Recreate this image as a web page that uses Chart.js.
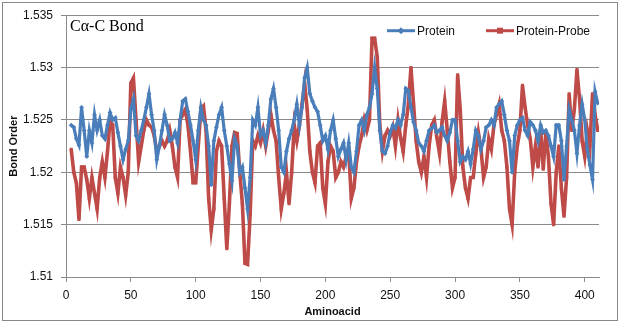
<!DOCTYPE html>
<html>
<head>
<meta charset="utf-8">
<script src="https://cdn.jsdelivr.net/npm/chart.js@4.4.1/dist/chart.umd.min.js"></script>
<style>
  body { margin: 0; background: #fff; }
  #wrap { width: 621px; height: 324px; }
</style>
</head>
<body>
<div id="wrap"><canvas id="bondChart" width="621" height="324"></canvas></div>
<script>
// Aminoacid index (every second residue, 4..410)
const aminoacid = Array.from({ length: 204 }, (_, i) => 4 + 2 * i);

// Bond order, Protein alone
const protein = [
    1.5245,1.5243,1.5232,1.5226,1.5262,1.5240,1.5215,1.5240,1.5228,1.5255,
    1.5240,1.5250,1.5235,1.5232,1.5245,1.5257,1.5250,1.5252,1.5238,1.5225,
    1.5212,1.5222,1.5230,1.5260,1.5270,1.5235,1.5230,1.5240,1.5250,1.5262,
    1.5275,1.5255,1.5240,1.5212,1.5225,1.5240,1.5255,1.5245,1.5230,1.5232,
    1.5238,1.5228,1.5250,1.5268,1.5270,1.5258,1.5245,1.5230,1.5212,1.5240,
    1.5262,1.5250,1.5245,1.5225,1.5188,1.5230,1.5243,1.5255,1.5262,1.5240,
    1.5225,1.5208,1.5192,1.5232,1.5225,1.5200,1.5205,1.5185,1.5165,1.5195,
    1.5250,1.5245,1.5262,1.5235,1.5240,1.5228,1.5245,1.5270,1.5280,1.5262,
    1.5240,1.5205,1.5200,1.5220,1.5232,1.5240,1.5250,1.5265,1.5245,1.5262,
    1.5290,1.5300,1.5275,1.5268,1.5262,1.5258,1.5245,1.5230,1.5235,1.5222,
    1.5240,1.5250,1.5232,1.5215,1.5222,1.5228,1.5212,1.5228,1.5205,1.5200,
    1.5220,1.5245,1.5250,1.5240,1.5255,1.5262,1.5275,1.5300,1.5280,1.5240,
    1.5220,1.5218,1.5225,1.5238,1.5245,1.5242,1.5250,1.5245,1.5255,1.5280,
    1.5278,1.5262,1.5248,1.5240,1.5228,1.5225,1.5220,1.5230,1.5240,1.5242,
    1.5245,1.5238,1.5240,1.5243,1.5235,1.5230,1.5238,1.5250,1.5250,1.5230,
    1.5210,1.5215,1.5212,1.5220,1.5208,1.5222,1.5240,1.5235,1.5222,1.5230,
    1.5243,1.5245,1.5250,1.5245,1.5262,1.5265,1.5268,1.5255,1.5240,1.5230,
    1.5200,1.5235,1.5245,1.5250,1.5252,1.5240,1.5235,1.5248,1.5245,1.5240,
    1.5230,1.5245,1.5238,1.5240,1.5235,1.5225,1.5215,1.5245,1.5245,1.5230,
    1.5193,1.5225,1.5260,1.5250,1.5240,1.5218,1.5245,1.5265,1.5250,1.5222,
    1.5207,1.5193,1.5277,1.5266
];

// Bond order, Protein with probe
const proteinProbe = [
    1.5222,1.5200,1.5190,1.5155,1.5205,1.5205,1.5193,1.5175,1.5195,1.5180,
    1.5165,1.5195,1.5210,1.5195,1.5220,1.5250,1.5245,1.5195,1.5180,1.5205,
    1.5195,1.5178,1.5200,1.5285,1.5290,1.5250,1.5210,1.5225,1.5240,1.5250,
    1.5245,1.5243,1.5235,1.5220,1.5225,1.5230,1.5225,1.5230,1.5240,1.5225,
    1.5205,1.5195,1.5250,1.5255,1.5260,1.5245,1.5220,1.5190,1.5190,1.5225,
    1.5260,1.5263,1.5240,1.5175,1.5145,1.5165,1.5220,1.5230,1.5225,1.5175,
    1.5127,1.5170,1.5225,1.5238,1.5237,1.5200,1.5170,1.5113,1.5112,1.5160,
    1.5230,1.5225,1.5235,1.5228,1.5240,1.5225,1.5240,1.5255,1.5240,1.5230,
    1.5195,1.5165,1.5180,1.5200,1.5170,1.5200,1.5245,1.5230,1.5245,1.5265,
    1.5285,1.5260,1.5220,1.5200,1.5190,1.5225,1.5228,1.5185,1.5170,1.5210,
    1.5225,1.5220,1.5195,1.5200,1.5210,1.5205,1.5215,1.5220,1.5175,1.5185,
    1.5210,1.5225,1.5235,1.5250,1.5240,1.5250,1.5328,1.5328,1.5310,1.5245,
    1.5220,1.5235,1.5240,1.5235,1.5243,1.5225,1.5250,1.5233,1.5220,1.5245,
    1.5265,1.5300,1.5265,1.5230,1.5210,1.5200,1.5215,1.5195,1.5225,1.5245,
    1.5250,1.5233,1.5218,1.5248,1.5268,1.5240,1.5210,1.5185,1.5195,1.5293,
    1.5260,1.5205,1.5185,1.5175,1.5195,1.5195,1.5218,1.5238,1.5222,1.5195,
    1.5205,1.5232,1.5222,1.5245,1.5255,1.5265,1.5240,1.5230,1.5205,1.5165,
    1.5150,1.5200,1.5225,1.5240,1.5283,1.5262,1.5245,1.5232,1.5205,1.5225,
    1.5205,1.5240,1.5203,1.5238,1.5215,1.5170,1.5150,1.5200,1.5225,1.5185,
    1.5158,1.5195,1.5275,1.5240,1.5260,1.5298,1.5270,1.5230,1.5215,1.5240,
    1.5225,1.5275,1.5255,1.5240
];

const xTicks = [0, 50, 100, 150, 200, 250, 300, 350, 400];
const yTicks = [1.51, 1.515, 1.52, 1.525, 1.53, 1.535];

const BLUE = '#4A7EBB';
const RED = '#BE4B48';
const GRID = '#8A8A8A';

function toPoints(values) {
    return values.map((v, i) => ({ x: aminoacid[i], y: v }));
}

// White background + outer frame
const framePlugin = {
    id: 'frame',
    beforeDraw(chart) {
        const ctx = chart.ctx;
        ctx.save();
        ctx.fillStyle = '#fff';
        ctx.fillRect(0, 0, chart.width, chart.height);
        ctx.restore();
    },
    afterDraw(chart) {
        const ctx = chart.ctx;
        ctx.save();
        ctx.strokeStyle = '#888';
        ctx.lineWidth = 1;
        ctx.strokeRect(2.5, 2.5, 615, 318);
        ctx.restore();
    }
};

// Inner title and legend, drawn inside the plot area like the original
const labelPlugin = {
    id: 'labels',
    afterDatasetsDraw(chart) {
        const ctx = chart.ctx;
        const area = chart.chartArea;
        ctx.save();

        ctx.fillStyle = '#000';
        ctx.font = '16px "Liberation Serif", serif';
        ctx.textBaseline = 'alphabetic';
        ctx.textAlign = 'left';
        ctx.fillText('C\u03b1-C Bond', area.left + 4, area.top + 16);

        const y = area.top + 15.5;
        const items = [
            { label: 'Protein', color: BLUE, x: 387, style: 'diamond' },
            { label: 'Protein-Probe', color: RED, x: 486, style: 'square' }
        ];
        ctx.font = '12px "Liberation Sans", sans-serif';
        ctx.textBaseline = 'middle';
        items.forEach((it) => {
            ctx.strokeStyle = it.color;
            ctx.lineWidth = 3;
            ctx.beginPath();
            ctx.moveTo(it.x, y);
            ctx.lineTo(it.x + 28, y);
            ctx.stroke();
            ctx.fillStyle = it.color;
            const cx = it.x + 14;
            ctx.beginPath();
            if (it.style === 'diamond') {
                ctx.moveTo(cx, y - 3.5);
                ctx.lineTo(cx + 3.5, y);
                ctx.lineTo(cx, y + 3.5);
                ctx.lineTo(cx - 3.5, y);
            } else {
                ctx.rect(cx - 3, y - 3, 6, 6);
            }
            ctx.fill();
            ctx.fillStyle = '#111';
            ctx.fillText(it.label, it.x + 30, y + 0.5);
        });
        ctx.restore();
    }
};

const ctx = document.getElementById('bondChart').getContext('2d');
new Chart(ctx, {
    type: 'line',
    data: {
        datasets: [
            {
                label: 'Protein',
                data: toPoints(protein),
                borderColor: BLUE,
                backgroundColor: BLUE,
                borderWidth: 3.2,
                pointStyle: 'rectRot',
                pointRadius: 2.4,
                pointBorderWidth: 0,
                tension: 0
            },
            {
                label: 'Protein-Probe',
                data: toPoints(proteinProbe),
                borderColor: RED,
                backgroundColor: RED,
                borderWidth: 3.6,
                pointStyle: 'rect',
                pointRadius: 2.2,
                pointBorderWidth: 0,
                tension: 0
            }
        ]
    },
    options: {
        responsive: false,
        animation: false,
        events: [],
        layout: {
            padding: { top: 11, right: 22, bottom: 0, left: 0 }
        },
        plugins: {
            legend: { display: false },
            title: { display: false },
            tooltip: { enabled: false }
        },
        scales: {
            x: {
                type: 'linear',
                min: 0,
                max: 411,
                afterBuildTicks(scale) {
                    scale.ticks = xTicks.map((v) => ({ value: v }));
                },
                afterFit(scale) {
                    scale.height = 47;
                },
                grid: {
                    drawOnChartArea: false,
                    drawTicks: true,
                    tickLength: 5,
                    color: GRID
                },
                border: { display: true, color: GRID, width: 1 },
                ticks: {
                    color: '#111',
                    padding: 6,
                    maxRotation: 0,
                    font: { family: '"Liberation Sans", sans-serif', size: 12 }
                },
                title: {
                    display: true,
                    text: 'Aminoacid',
                    color: '#111',
                    padding: { top: 0, bottom: 5 },
                    font: { family: '"Liberation Sans", sans-serif', size: 11, weight: 'bold' }
                }
            },
            y: {
                min: 1.51,
                max: 1.535,
                afterBuildTicks(scale) {
                    scale.ticks = yTicks.map((v) => ({ value: v }));
                },
                afterFit(scale) {
                    scale.width = 66;
                },
                grid: {
                    color: GRID,
                    drawTicks: true,
                    tickLength: 5
                },
                border: { display: true, color: GRID, width: 1 },
                ticks: {
                    color: '#111',
                    padding: 8,
                    callback: (v) => String(parseFloat(Number(v).toFixed(3))),
                    font: { family: '"Liberation Sans", sans-serif', size: 12 }
                },
                title: {
                    display: true,
                    text: 'Bond Order',
                    color: '#111',
                    padding: { top: 7, bottom: 0 },
                    font: { family: '"Liberation Sans", sans-serif', size: 11, weight: 'bold' }
                }
            }
        }
    },
    plugins: [framePlugin, labelPlugin]
});
</script>
</body>
</html>
